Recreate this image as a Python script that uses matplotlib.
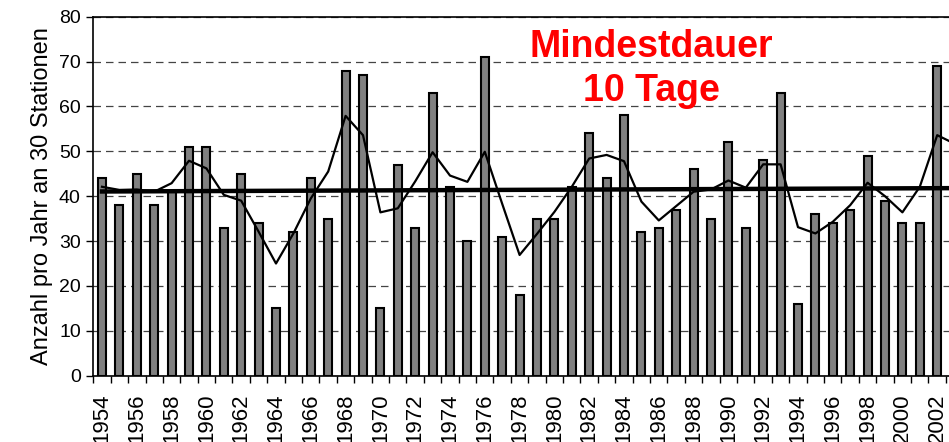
import matplotlib.pyplot as plt
import numpy as np

plt.rcParams['font.family'] = ['Liberation Sans', 'DejaVu Sans']

years = list(range(1954, 2003))
counts = [44, 38, 45, 38, 41, 51, 51, 33, 45, 34, 15, 32, 44, 35, 68, 67, 15, 47, 33, 63,
          42, 30, 71, 31, 18, 35, 35, 42, 54, 44, 58, 32, 33, 37, 46, 35, 52, 33, 48, 63,
          16, 36, 34, 37, 49, 39, 34, 34, 69]

# smoothed curve, runs one year further (cut at the right edge)
smooth_years = list(range(1954, 2004))
smooth = [42.1, 41.4, 41.5, 41.0, 42.9, 47.9, 46.2, 40.3, 39.0, 32.1, 25.0, 31.7, 39.5, 45.5,
          57.9, 53.6, 36.4, 37.3, 43.3, 49.8, 44.6, 43.2, 49.9, 38.3, 26.9, 31.6, 36.5, 42.1,
          48.4, 49.2, 47.8, 38.8, 34.6, 37.8, 41.0, 41.5, 43.5, 41.9, 47.1, 47.1, 33.1, 31.7,
          34.3, 38.0, 43.0, 40.0, 36.4, 42.1, 53.6, 51.7]

trend_years = [1954, 2003]
trend = [41.05, 41.8]

fig = plt.figure(figsize=(9.49, 4.42), dpi=100)
ax = fig.add_axes([93.3 / 949, 1 - 375.7 / 442, 1 - 93.3 / 949, (375.7 - 16.7) / 442])

x = np.arange(len(years))
ax.bar(x, counts, width=0.46, color='#808080', edgecolor='black', linewidth=1.5, zorder=3)
ax.plot(np.array(smooth_years) - years[0], smooth, color='black', lw=1.6, zorder=4)
ax.plot(np.array(trend_years) - years[0], trend, color='black', lw=3.2, zorder=5)

ax.set_yticks(range(0, 81, 10))
ax.yaxis.grid(True, linestyle=(0, (6, 4)), color='#444444', lw=0.9, zorder=0)
ax.tick_params(axis='y', labelsize=14, length=5, width=1, direction='out', pad=4)

ax.set_xticks(np.arange(-0.5, len(years) + 1, 1))
ax.set_xticklabels([])
ax.tick_params(axis='x', which='major', length=5, width=1, direction='out')
ax.set_xticks(x[::2], minor=True)
ax.set_xticklabels([str(y) for y in years[::2]], minor=True, rotation=90)
ax.tick_params(axis='x', which='minor', length=0, labelsize=16, pad=13)

ax.set_ylim(0, 80)
ax.set_xlim(-0.5, -0.5 + (949 - 93.3) / 17.4)

ax.spines['right'].set_visible(False)
for s in ['left', 'bottom', 'top']:
    ax.spines[s].set_linewidth(1.2)

ax.set_ylabel('Anzahl pro Jahr an 30 Stationen', fontsize=17, labelpad=4)

fig.text(651 / 949, 1 - 57 / 442, 'Mindestdauer', color='red', fontsize=27,
         fontweight='bold', ha='center', va='baseline')
fig.text(651 / 949, 1 - 101 / 442, '10 Tage', color='red', fontsize=27,
         fontweight='bold', ha='center', va='baseline')

fig.savefig('out.png', dpi=100)
